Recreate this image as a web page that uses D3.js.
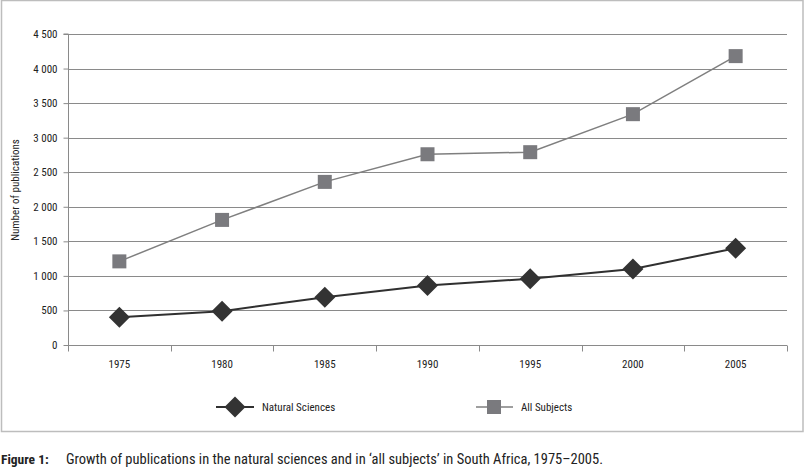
<!DOCTYPE html>
<html><head><meta charset="utf-8">
<script src="https://cdn.jsdelivr.net/npm/d3@7"></script>
<style>
body{margin:0;background:#fff;}
svg text{font-family:"Liberation Sans Narrow","Roboto Condensed","Arial Narrow",sans-serif;fill:#222;}
</style></head><body>
<svg id="c" width="805" height="468"></svg>
<script>
const years = ["1975","1980","1985","1990","1995","2000","2005"];
const naturalSciences = [400, 490, 690, 860, 960, 1100, 1400];
const allSubjects = [1210, 1810, 2360, 2760, 2790, 3340, 4180];
const yTicks = [0,500,1000,1500,2000,2500,3000,3500,4000,4500];
const seriesNames = ["Natural Sciences","All Subjects"];
const caption = "Growth of publications in the natural sciences and in \u2018all subjects\u2019 in South Africa, 1975\u20132005.";

const svg = d3.select("#c");
const L=68, R=787, T=34, B=345;
const x = d3.scaleBand().domain(years).range([L,R]);
const y = d3.scaleLinear().domain([0,4500]).range([B,T]);
const fmt = v => d3.format(",")(v).replace(/,/g," ");

// frame
svg.append("rect").attr("x",1.5).attr("y",0.5).attr("width",801.5).attr("height",431)
  .attr("fill","none").attr("stroke","#bdbdbd").attr("stroke-width",1.5);

// gridlines
svg.append("g").selectAll("line").data(yTicks.filter(d=>d>0)).join("line")
  .attr("x1",L).attr("x2",R).attr("y1",d=>Math.round(y(d))+0.5).attr("y2",d=>Math.round(y(d))+0.5)
  .attr("stroke","#8a8a8a").attr("stroke-width",1);

// y axis
const ya = svg.append("g").attr("transform",`translate(${L+0.5},0)`)
  .call(d3.axisLeft(y).tickValues(yTicks).tickFormat(fmt).tickSize(5).tickPadding(6));
ya.select(".domain").attr("stroke","#8a8a8a").attr("d",`M-5,${T}H0V${B}`);
ya.selectAll(".tick line").attr("stroke","#8a8a8a");
ya.selectAll(".tick text").attr("font-size",11).attr("fill","#222");

// x axis
const xa = svg.append("g").attr("transform",`translate(0,${Math.round(B)+0.5})`)
  .call(d3.axisBottom(x).tickSize(0).tickPadding(15));
xa.select(".domain").attr("stroke","#8a8a8a").attr("d",`M${L},0H${R}`);
xa.selectAll(".tick text").attr("font-size",11).attr("fill","#222");
const bounds = years.map(d=>x(d)).concat([R]);
xa.append("g").selectAll("line").data(bounds).join("line")
  .attr("x1",d=>Math.round(d)+0.5).attr("x2",d=>Math.round(d)+0.5).attr("y1",0).attr("y2",6)
  .attr("stroke","#8a8a8a");

// y title
svg.append("text").attr("transform",`translate(19,190) rotate(-90)`).attr("text-anchor","middle")
  .attr("font-size",11).text("Number of publications");

const cx = d => x(d)+x.bandwidth()/2;
const line = d3.line().x((d,i)=>cx(years[i])).y(d=>y(d));

// All subjects
svg.append("path").datum(allSubjects).attr("d",line).attr("fill","none")
  .attr("stroke","#7f7f7f").attr("stroke-width",1.5);
svg.append("g").selectAll("rect").data(allSubjects).join("rect")
  .attr("x",(d,i)=>cx(years[i])-7).attr("y",d=>y(d)-7).attr("width",14).attr("height",14)
  .attr("fill","#7a7a7e");

// Natural sciences
svg.append("path").datum(naturalSciences).attr("d",line).attr("fill","none")
  .attr("stroke","#303030").attr("stroke-width",2);
const diamond = "M0,-10.5L10.5,0L0,10.5L-10.5,0Z";
svg.append("g").selectAll("path").data(naturalSciences).join("path")
  .attr("transform",(d,i)=>`translate(${cx(years[i])},${y(d)})`).attr("d",diamond)
  .attr("fill","#333333");

// legend
const lg = svg.append("g");
lg.append("line").attr("x1",216).attr("x2",254).attr("y1",407).attr("y2",407).attr("stroke","#303030").attr("stroke-width",2);
lg.append("path").attr("transform","translate(235,407)").attr("d",diamond).attr("fill","#333333");
lg.append("text").attr("x",262).attr("y",411).attr("font-size",11).text(seriesNames[0]);
lg.append("line").attr("x1",476).attr("x2",513).attr("y1",407).attr("y2",407).attr("stroke","#7f7f7f").attr("stroke-width",1.5);
lg.append("rect").attr("x",487).attr("y",400).attr("width",14).attr("height",14).attr("fill","#7a7a7e");
lg.append("text").attr("x",521).attr("y",411).attr("font-size",11).text(seriesNames[1]);

// caption
svg.append("text").attr("x",1).attr("y",464).attr("font-size",13.5).attr("font-weight","bold").text("Figure 1:");
svg.append("text").attr("x",66).attr("y",464).attr("font-size",14.5).text(caption);
</script></body></html>
